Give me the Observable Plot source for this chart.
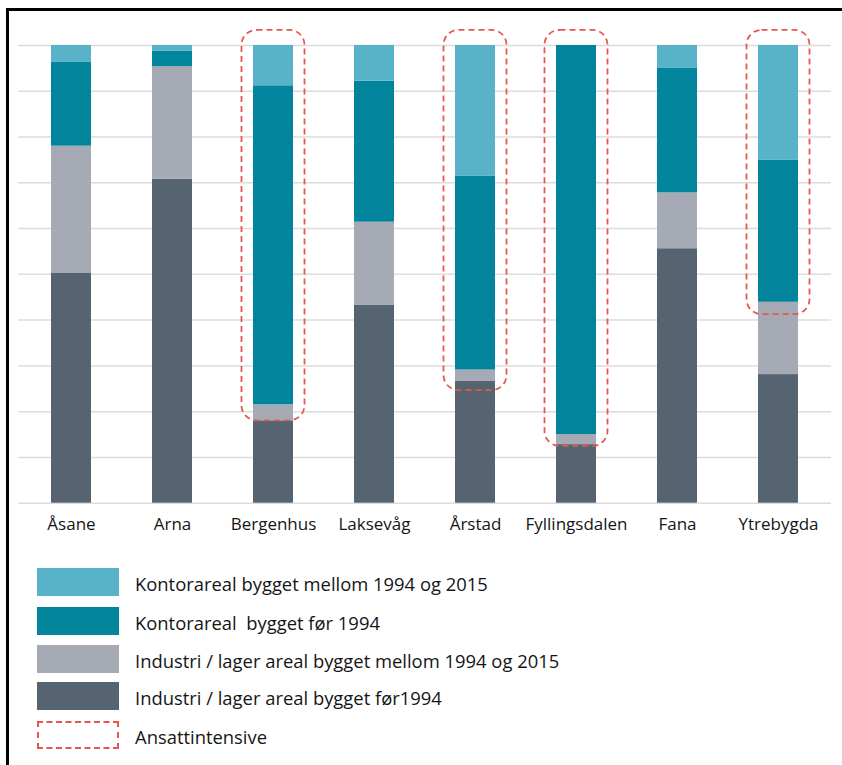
<!DOCTYPE html>
<html>
<head>
<meta charset="utf-8">
<script src="https://cdn.jsdelivr.net/npm/d3@7"></script>
<script src="https://cdn.jsdelivr.net/npm/@observablehq/plot@0.6"></script>
<style>
  html, body { margin: 0; padding: 0; background: #fff; }
  body { position: relative; width: 842px; height: 765px; overflow: hidden; font-family: "Open Sans", sans-serif; }
  #chart { position: absolute; left: 0; top: 0; }
  .bline { position: absolute; background: #000; }
  .legend-item { position: absolute; left: 37px; height: 28px; display: flex; align-items: center; }
  .sw { width: 82px; height: 28px; box-sizing: border-box; flex: none; }
  .lbl { margin-left: 16px; margin-top: 2px; font-size: 18.4px; color: #151515; white-space: pre; }
</style>
</head>
<body>
<div class="bline" style="left:6px;top:8px;width:836px;height:3px"></div>
<div class="bline" style="left:6px;top:8px;width:3px;height:757px"></div>
<div id="chart"></div>
<div id="legend"></div>
<script>
// ---- data (percent of area per district) ----
const districts = ["Åsane", "Arna", "Bergenhus", "Laksevåg", "Årstad", "Fyllingsdalen", "Fana", "Ytrebygda"];
const seriesNames = [
  "Industri / lager areal bygget før1994",
  "Industri / lager areal bygget mellom 1994 og 2015",
  "Kontorareal  bygget før 1994",
  "Kontorareal bygget mellom 1994 og 2015"
];
const industriFor1994 = [50.3, 70.8, 18.0, 43.3, 26.7, 12.8, 55.6, 28.1];
const industri1994til2015 = [27.7, 24.6, 3.5, 18.1, 2.4, 2.2, 12.2, 15.8];
const kontorFor1994 = [18.3, 3.4, 69.7, 30.8, 42.3, 85.0, 27.3, 31.0];
const kontor1994til2015 = [3.7, 1.2, 8.8, 7.8, 28.6, 0.0, 4.9, 25.1];
const seriesColors = ["#566472", "#a5aab4", "#01849c", "#59b3c8"];

// "Ansattintensive" highlight boxes
const intensiveDistricts = ["Bergenhus", "Årstad", "Fyllingsdalen", "Ytrebygda"];
const intensiveTop = [103.3, 103.3, 103.3, 103.3];
const intensiveBottom = [18.0, 24.6, 12.4, 41.2];
const intensiveLabel = "Ansattintensive";

const yTicks = [0, 10, 20, 30, 40, 50, 60, 70, 80, 90, 100];

// ---- build tables ----
const seriesValues = [industriFor1994, industri1994til2015, kontorFor1994, kontor1994til2015];
const rows = [];
seriesNames.forEach((s, si) => {
  districts.forEach((d, di) => rows.push({district: d, series: s, value: seriesValues[si][di]}));
});
const boxes = intensiveDistricts.map((d, i) => ({district: d, top: intensiveTop[i], bottom: intensiveBottom[i]}));

const chart = Plot.plot({
  width: 842,
  height: 545,
  marginLeft: 18,
  marginRight: 11,
  marginTop: 45,
  marginBottom: 42.3,
  style: {fontFamily: "Open Sans, sans-serif", fontSize: "17px", color: "#151515", background: "transparent"},
  x: {domain: districts, paddingInner: 0.6, paddingOuter: 0.3, label: null},
  y: {domain: [0, 100], axis: null},
  color: {domain: seriesNames, range: seriesColors},
  marks: [
    Plot.ruleY(yTicks, {stroke: "#dcdcdc", strokeWidth: 1.5}),
    Plot.barY(rows, {x: "district", y: "value", fill: "series"}),
    Plot.barY(boxes, {
      x: "district", y1: "bottom", y2: "top",
      insetLeft: -11.5, insetRight: -11.5, rx: 15,
      fill: "none", stroke: "#e5574f", strokeWidth: 1.8, strokeDasharray: "6,4"
    }),
    Plot.axisX({tickSize: 0, tickPadding: 15, fontSize: 17, label: null})
  ]
});
document.getElementById("chart").appendChild(chart);

// ---- legend (HTML, below the SVG) ----
const legend = document.getElementById("legend");
const legendOrder = [3, 2, 1, 0];
const legendTops = [568, 607, 645, 682, 721];
legendOrder.forEach((si, k) => {
  const item = document.createElement("div");
  item.className = "legend-item";
  item.style.top = legendTops[k] + "px";
  const sw = document.createElement("div");
  sw.className = "sw";
  sw.style.background = seriesColors[si];
  const lbl = document.createElement("span");
  lbl.className = "lbl";
  lbl.textContent = seriesNames[si];
  item.appendChild(sw); item.appendChild(lbl);
  legend.appendChild(item);
});
{
  const item = document.createElement("div");
  item.className = "legend-item";
  item.style.top = legendTops[4] + "px";
  const sw = document.createElement("div");
  sw.className = "sw";
  sw.style.border = "2px dashed #e5574f";
  const lbl = document.createElement("span");
  lbl.className = "lbl";
  lbl.textContent = intensiveLabel;
  item.appendChild(sw); item.appendChild(lbl);
  legend.appendChild(item);
}
</script>
</body>
</html>
